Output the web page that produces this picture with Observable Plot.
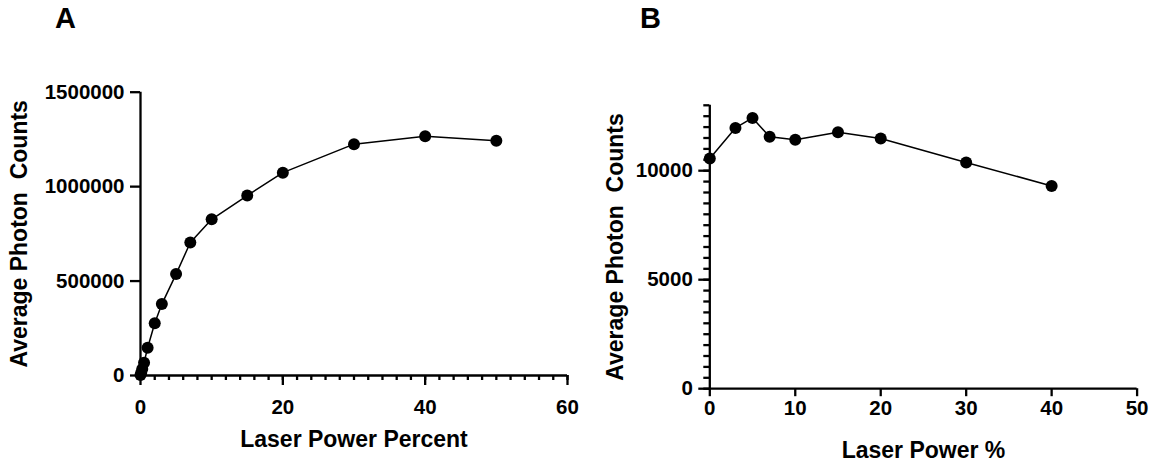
<!DOCTYPE html>
<html><head><meta charset="utf-8">
<script src="https://cdn.jsdelivr.net/npm/d3@7"></script>
<script src="https://cdn.jsdelivr.net/npm/@observablehq/plot@0.6"></script>
<style>
body{margin:0;background:#fff;}
#wrap{position:relative;width:1151px;height:463px;overflow:hidden;background:#fff;font-family:"Liberation Sans",Arial,sans-serif;}
.panel{position:absolute;top:0;}
.tag{position:absolute;font-weight:bold;font-size:29px;line-height:1;color:#000;}
#wrap svg g[aria-label="x-axis tick label"], #wrap svg g[aria-label="y-axis tick label"]{font-size:20.5px;font-weight:bold;}
</style></head><body>
<div id="wrap">
<div class="tag" style="left:55px;top:4px">A</div>
<div class="tag" style="left:640px;top:4px">B</div>
<div class="panel" id="pa" style="left:0px"></div>
<div class="panel" id="pb" style="left:590px"></div>
</div>
<script>
// Panel A data
const aPower = [0, 0.1, 0.25, 0.5, 1, 2, 3, 5, 7, 10, 15, 20, 30, 40, 50];
const aCounts = [2000, 15000, 35000, 68000, 147000, 277000, 378000, 537000, 704000, 827000, 953000, 1074000, 1225000, 1267000, 1243000];
// Panel B data
const bPower = [0, 3, 5, 7, 10, 15, 20, 30, 40];
const bCounts = [10560, 11960, 12420, 11560, 11420, 11760, 11480, 10380, 9300];
// Ticks
const aXTicks = [0, 20, 40, 60];
const aXMinor = d3.range(0, 61, 2);
const aYTicks = [0, 500000, 1000000, 1500000];
const bXTicks = [0, 10, 20, 30, 40, 50];
const bYTicks = [0, 5000, 10000];
const bYMinor = d3.range(0, 13001, 500);
const aXLabel = "Laser Power Percent";
const bXLabel = "Laser Power %";
const yLabel = "Average Photon\u00a0 Counts";

const aData = aPower.map((p, i) => ({power: p, counts: aCounts[i]}));
const bData = bPower.map((p, i) => ({power: p, counts: bCounts[i]}));

const style = {fontFamily: '"Liberation Sans", Arial, sans-serif', fontSize: "20.5px", fontWeight: "bold", color: "#000", background: "transparent", overflow: "visible"};
const AX = 2.3;
const LF = 23;
const R = 6;

const A = Plot.plot({
  width: 580, height: 463,
  marginLeft: 140, marginRight: 13, marginTop: 91.7, marginBottom: 88,
  style,
  x: {domain: [0, 60], label: null},
  y: {domain: [0, 1500000], label: null},
  marks: [
    Plot.axisX(aXMinor, {tickSize: 5, strokeWidth: AX, tickFormat: () => "", label: null}),
    Plot.axisX(aXTicks, {tickSize: 10, tickPadding: 14, strokeWidth: AX, label: null, fontSize: 20.5, fontWeight: "bold"}),
    Plot.axisY(aYTicks, {tickSize: 10, tickPadding: 6, strokeWidth: AX, label: null, tickFormat: d => String(d), fontSize: 20.5, fontWeight: "bold"}),
    Plot.ruleY([0], {strokeWidth: AX}),
    Plot.ruleX([0], {strokeWidth: AX}),
    Plot.line(aData, {x: "power", y: "counts", stroke: "black", strokeWidth: 1.5}),
    Plot.dot(aData, {x: "power", y: "counts", r: R, fill: "black", stroke: "none"}),
    Plot.text([aXLabel], {frameAnchor: "bottom", dy: 64, fontSize: LF, fontWeight: "bold", lineAnchor: "middle", textAnchor: "middle"}),
    Plot.text([yLabel], {frameAnchor: "left", dx: -120.5, rotate: -90, fontSize: LF, fontWeight: "bold", lineAnchor: "middle", textAnchor: "middle"})
  ]
});
document.getElementById("pa").appendChild(A);

const B = Plot.plot({
  width: 561, height: 463,
  marginLeft: 119.3, marginRight: 14.4, marginTop: 104.8, marginBottom: 74.8,
  style,
  x: {domain: [0, 50], label: null},
  y: {domain: [0, 13000], label: null},
  marks: [
    Plot.axisY(bYMinor, {tickSize: 6, strokeWidth: AX, tickFormat: () => "", label: null}),
    Plot.axisX(bXTicks, {tickSize: 8, tickPadding: 4, strokeWidth: AX, label: null, fontSize: 20.5, fontWeight: "bold"}),
    Plot.axisY(bYTicks, {tickSize: 11, tickPadding: 6, strokeWidth: AX, label: null, tickFormat: d => String(d), fontSize: 20.5, fontWeight: "bold"}),
    Plot.ruleY([0], {strokeWidth: AX}),
    Plot.ruleX([0], {strokeWidth: AX}),
    Plot.line(bData, {x: "power", y: "counts", stroke: "black", strokeWidth: 1.5}),
    Plot.dot(bData, {x: "power", y: "counts", r: R, fill: "black", stroke: "none"}),
    Plot.text([bXLabel], {frameAnchor: "bottom", dy: 62, fontSize: LF, fontWeight: "bold", lineAnchor: "middle", textAnchor: "middle"}),
    Plot.text([yLabel], {frameAnchor: "left", dx: -94, rotate: -90, fontSize: LF, fontWeight: "bold", lineAnchor: "middle", textAnchor: "middle"})
  ]
});
document.getElementById("pb").appendChild(B);
</script>
</body></html>
